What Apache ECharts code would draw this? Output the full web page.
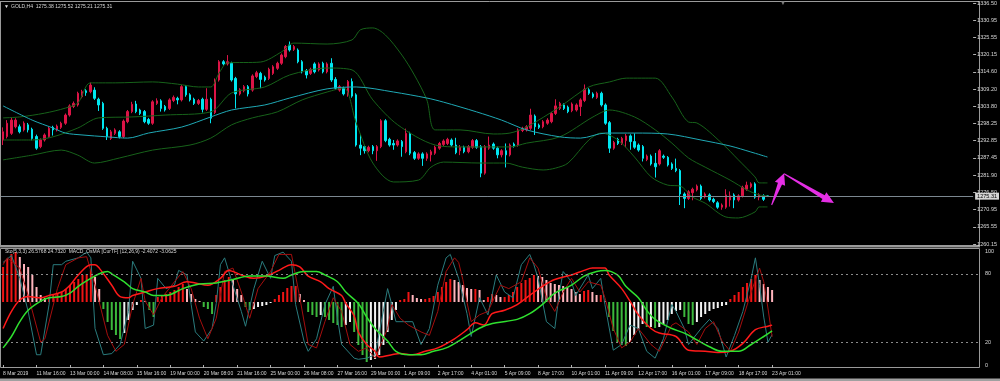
<!DOCTYPE html>
<html><head><meta charset="utf-8">
<script src="https://cdn.jsdelivr.net/npm/echarts/dist/echarts.min.js"></script>
<style>html,body{margin:0;padding:0;background:#000;}#c{width:1000px;height:381px;}</style>
</head><body><div id="c"></div>
<script>
// ---- tick labels ----
const timeLabels = ['8 Mar 2019','11 Mar 16:00','13 Mar 00:00','14 Mar 08:00','15 Mar 16:00','19 Mar 00:00','20 Mar 08:00','21 Mar 16:00','25 Mar 00:00','26 Mar 08:00','27 Mar 16:00','29 Mar 00:00','1 Apr 09:00','2 Apr 17:00','4 Apr 01:00','5 Apr 09:00','8 Apr 17:00','10 Apr 01:00','11 Apr 09:00','12 Apr 17:00','16 Apr 01:00','17 Apr 09:00','18 Apr 17:00','23 Apr 01:00'];
const priceTicks = ['1260.15','1265.55','1270.95','1276.50','1281.90','1287.45','1292.85','1298.25','1303.80','1309.20','1314.60','1320.15','1325.55','1330.95','1336.50'];
const stochTicks = [0, 20, 80, 100];
const stochLevels = [20, 80];
const barsPerLabel = 8;
const totalSlots = 234;

// ---- candles (H4 GOLD) ----
const opens = [1293.1,1294.2,1295.2,1297.3,1297.3,1296.3,1297.9,1296.5,1294.2,1291.0,1293.1,1294.2,1297.1,1296.3,1297.1,1298.4,1301.0,1303.7,1304.2,1306.8,1308.7,1308.4,1308.9,1306.0,1304.7,1296.8,1293.6,1295.2,1295.7,1294.2,1298.9,1302.1,1304.5,1302.6,1302.1,1299.6,1298.4,1304.7,1305.5,1303.7,1303.1,1305.6,1306.3,1305.8,1310.0,1307.4,1306.0,1304.7,1306.0,1302.8,1306.0,1301.8,1312.1,1317.9,1317.2,1317.4,1312.6,1307.7,1308.7,1310.0,1308.9,1313.2,1314.2,1313.0,1312.6,1314.2,1315.8,1317.4,1319.5,1323.2,1321.8,1321.6,1317.9,1315.1,1314.2,1317.2,1315.3,1317.4,1314.7,1317.4,1312.3,1308.9,1309.5,1307.4,1311.6,1307.4,1291.5,1291.0,1289.7,1291.0,1289.7,1291.0,1299.2,1293.3,1292.0,1291.5,1292.6,1289.4,1295.2,1289.1,1287.3,1288.7,1287.3,1288.4,1288.9,1290.5,1291.7,1292.0,1293.1,1291.5,1289.7,1290.8,1289.4,1290.8,1292.9,1291.0,1282.6,1290.5,1291.8,1290.5,1288.4,1289.7,1288.4,1291.8,1291.5,1296.1,1296.3,1296.8,1300.7,1297.8,1297.3,1298.4,1298.9,1301.5,1303.1,1304.2,1303.5,1302.4,1302.6,1303.7,1305.6,1309.0,1307.7,1306.6,1307.9,1304.2,1298.6,1290.5,1293.3,1292.0,1292.9,1294.4,1292.6,1291.5,1291.0,1286.9,1288.0,1285.7,1285.5,1288.0,1287.6,1285.5,1284.1,1283.4,1276.0,1274.6,1276.4,1277.3,1278.5,1275.1,1275.7,1274.3,1273.2,1271.8,1271.8,1274.1,1275.7,1274.1,1275.4,1277.5,1278.3,1279.2,1275.0,1275.4,1275.38];
const highs = [1297.1,1299.4,1300.3,1300.0,1298.0,1299.0,1298.5,1297.0,1294.8,1293.6,1295.2,1297.3,1297.6,1298.0,1298.9,1301.5,1304.4,1305.3,1308.4,1309.0,1309.2,1311.3,1309.8,1306.5,1305.2,1297.3,1296.3,1296.8,1296.2,1299.6,1302.6,1305.2,1305.5,1303.0,1302.6,1300.1,1305.7,1306.3,1306.0,1304.2,1306.3,1307.2,1306.8,1310.5,1310.5,1307.9,1306.5,1306.1,1306.5,1309.5,1306.5,1312.6,1318.4,1318.4,1320.0,1317.9,1313.1,1309.5,1310.5,1310.5,1313.9,1315.0,1314.7,1313.5,1316.0,1316.8,1317.9,1320.5,1323.2,1324.3,1323.2,1322.1,1318.4,1315.6,1316.0,1317.7,1317.7,1317.9,1317.7,1319.0,1313.0,1310.5,1310.0,1312.1,1312.6,1307.9,1294.7,1291.5,1291.3,1291.5,1291.5,1299.7,1299.7,1293.8,1293.1,1293.3,1293.1,1296.7,1295.7,1289.6,1289.2,1289.2,1289.2,1290.0,1291.3,1292.5,1293.3,1293.8,1293.6,1293.8,1291.5,1291.3,1291.5,1293.4,1293.4,1291.5,1291.5,1294.2,1292.3,1291.0,1290.2,1292.0,1292.0,1292.3,1296.8,1297.3,1297.8,1303.0,1301.2,1298.3,1299.4,1300.0,1302.0,1306.0,1305.2,1304.7,1304.0,1305.0,1304.7,1306.3,1310.7,1309.5,1308.2,1308.4,1308.4,1304.7,1299.1,1292.8,1293.8,1294.1,1295.0,1294.9,1295.2,1292.0,1291.5,1288.5,1288.5,1289.0,1290.2,1288.5,1288.0,1286.0,1287.2,1283.9,1276.5,1277.2,1278.0,1279.0,1279.0,1276.5,1276.2,1274.8,1273.7,1273.0,1277.5,1276.8,1276.2,1275.9,1278.6,1279.9,1279.7,1279.7,1276.2,1275.9,1275.52];
const lows = [1291.5,1293.6,1294.7,1296.8,1295.2,1295.8,1295.5,1293.0,1290.0,1290.5,1292.6,1293.8,1294.5,1295.8,1296.6,1297.9,1300.5,1303.2,1303.7,1306.3,1307.1,1307.9,1305.8,1302.3,1296.3,1293.1,1293.1,1294.7,1293.6,1293.7,1298.4,1301.6,1301.6,1301.0,1298.4,1297.9,1297.9,1304.2,1302.1,1302.1,1302.6,1305.1,1304.4,1305.3,1306.8,1305.3,1304.2,1304.2,1301.8,1302.3,1298.4,1301.3,1311.6,1316.7,1316.7,1311.6,1303.1,1307.2,1308.2,1306.9,1308.4,1312.7,1309.5,1311.6,1312.1,1313.7,1315.3,1316.9,1319.0,1321.1,1321.3,1317.4,1314.2,1312.6,1313.7,1314.2,1314.8,1314.2,1314.2,1311.5,1309.0,1308.4,1307.2,1306.8,1306.5,1291.0,1288.3,1288.8,1289.2,1288.6,1286.5,1290.5,1292.4,1291.0,1290.0,1291.0,1287.8,1288.9,1288.3,1286.8,1286.8,1284.9,1286.5,1286.3,1288.4,1290.0,1291.2,1291.5,1291.0,1288.6,1288.3,1288.9,1288.9,1290.3,1290.3,1281.3,1282.1,1290.0,1290.0,1287.3,1287.6,1284.4,1287.9,1290.7,1291.0,1295.6,1295.8,1296.3,1294.7,1296.6,1296.8,1297.9,1298.4,1301.0,1302.6,1302.6,1301.6,1301.9,1302.1,1300.7,1305.1,1307.4,1306.3,1306.1,1303.7,1297.9,1289.0,1290.0,1291.5,1291.5,1290.8,1290.0,1290.3,1289.4,1286.3,1286.4,1285.0,1281.2,1285.0,1287.1,1284.7,1283.6,1282.9,1272.5,1271.5,1274.1,1274.0,1276.8,1274.1,1274.6,1273.6,1273.1,1271.3,1271.0,1271.3,1272.0,1271.5,1273.6,1274.9,1277.0,1277.8,1274.5,1274.0,1273.8,1275.21];
const closes = [1295.7,1298.4,1299.4,1299.4,1295.7,1298.4,1296.3,1293.6,1290.5,1293.1,1294.7,1296.8,1296.3,1297.5,1298.4,1301.0,1303.9,1304.7,1307.9,1308.4,1308.1,1310.5,1306.3,1304.2,1296.8,1294.2,1295.7,1296.3,1294.2,1299.1,1302.1,1304.4,1302.1,1301.5,1298.9,1298.4,1305.2,1305.5,1303.1,1302.6,1305.8,1306.6,1305.8,1310.0,1307.4,1305.8,1304.7,1305.6,1302.8,1306.0,1300.0,1312.1,1317.9,1317.2,1317.9,1312.1,1307.7,1309.0,1310.0,1307.7,1313.4,1314.4,1312.3,1312.1,1315.5,1316.3,1317.4,1320.0,1322.7,1321.6,1322.7,1317.9,1314.7,1313.7,1315.5,1314.7,1317.2,1314.7,1317.2,1312.1,1309.5,1310.0,1307.7,1311.6,1307.0,1291.5,1290.5,1289.7,1290.8,1289.7,1291.0,1299.2,1292.9,1291.5,1291.5,1292.8,1291.0,1295.2,1288.9,1287.3,1288.7,1287.3,1288.7,1289.4,1290.8,1292.0,1292.8,1293.3,1291.5,1289.1,1290.8,1289.4,1291.0,1292.9,1290.8,1282.6,1291.0,1291.5,1290.5,1288.4,1289.7,1288.4,1291.5,1291.2,1296.3,1296.8,1297.3,1301.0,1297.3,1297.1,1298.9,1299.4,1301.5,1303.9,1304.7,1303.1,1302.1,1304.5,1304.2,1305.8,1309.2,1307.9,1306.8,1307.9,1304.2,1298.4,1290.5,1292.3,1292.0,1293.6,1294.4,1292.6,1290.8,1289.9,1287.3,1288.0,1285.5,1284.6,1289.7,1287.6,1285.2,1284.1,1283.4,1276.0,1274.6,1276.7,1277.5,1278.5,1274.6,1276.0,1274.1,1273.6,1271.8,1272.5,1275.7,1275.4,1274.1,1275.4,1278.1,1278.8,1279.2,1275.0,1275.7,1274.3,1275.31];

// ---- main indicators: [bar, price] ----
const maLine = [[0,1303.9],[7,1299.4],[12,1296.9],[15,1295.3],[19,1294.7],[25,1294.1],[30,1293.7],[35,1295.3],[43,1297.2],[50,1300.4],[55,1302.6],[63,1304.2],[69,1306.4],[78,1309.3],[85,1309.9],[94,1308.3],[102,1306.4],[106,1305.1],[114,1302.0],[120,1299.4],[126,1296.3],[134,1294.1],[139,1293.7],[145,1295.3],[152,1295.3],[160,1295.0],[168,1293.1],[175,1291.2],[180,1289.3],[184,1287.7]];
const bbUpper = [[0,1300.1],[4,1300.4],[10,1301.6],[15,1303.2],[18,1304.8],[21,1311.2],[27,1311.2],[36,1311.5],[42,1310.8],[47,1309.9],[50,1309.9],[52,1314.3],[54,1317.5],[62,1317.8],[67,1321.0],[70,1323.8],[78,1323.5],[84,1324.8],[86,1328.0],[89,1328.6],[92,1326.4],[96,1320.0],[99,1313.7],[102,1305.8],[104,1296.3],[110,1296.3],[118,1295.0],[122,1295.3],[126,1297.2],[134,1303.6],[141,1309.9],[146,1311.5],[150,1312.7],[157,1312.7],[161,1306.7],[165,1298.8],[167,1298.5],[173,1292.1],[177,1286.8],[181,1281.4],[182,1279.5],[184,1279.5]];
const bbMiddle = [[0,1293.1],[7,1293.1],[12,1294.1],[18,1296.9],[23,1300.1],[31,1300.4],[39,1301.0],[50,1302.0],[55,1308.0],[63,1309.9],[69,1313.7],[78,1315.9],[84,1315.3],[89,1305.8],[95,1297.9],[104,1291.5],[110,1290.9],[122,1290.9],[126,1292.1],[134,1294.1],[142,1300.4],[146,1302.6],[152,1300.4],[157,1296.3],[161,1292.1],[165,1287.4],[169,1284.5],[175,1280.4],[179,1277.3],[182,1275.7],[184,1275.4]];
const bbLower = [[0,1286.8],[7,1288.3],[14,1289.9],[18,1288.3],[22,1285.8],[28,1287.4],[36,1289.9],[45,1291.5],[50,1293.7],[55,1297.9],[60,1300.1],[66,1302.0],[72,1305.8],[78,1308.3],[82,1309.6],[85,1298.5],[89,1285.8],[94,1279.8],[100,1280.4],[103,1284.5],[106,1286.1],[115,1285.8],[121,1285.8],[125,1284.5],[130,1283.6],[133,1284.2],[136,1285.8],[141,1293.1],[144,1295.3],[148,1293.1],[152,1287.7],[156,1281.4],[160,1278.8],[163,1278.5],[166,1275.0],[169,1273.1],[174,1268.7],[177,1268.4],[181,1270.3],[182,1271.9],[184,1271.9]];

// ---- sub window: Stochastic(5,3,3) + MACD OsMA ----
const stochMain = [[0,90],[2,96],[4,76],[6,47],[8,9],[9,9],[11,53],[12,88],[14,88],[15,91],[18,94],[20,99],[21,94],[22,32],[24,9],[26,10],[28,18],[30,47],[31,91],[33,76],[34,32],[36,35],[37,76],[39,67],[41,70],[42,83],[44,79],[45,53],[46,29],[48,21],[50,32],[51,54],[52,88],[53,94],[55,70],[57,47],[58,34],[60,67],[62,91],[64,76],[65,96],[67,99],[69,91],[70,53],[72,21],[73,12],[75,23],[77,53],[79,69],[80,41],[81,18],[84,6],[85,5],[87,6],[89,9],[92,67],[93,53],[94,38],[96,38],[98,38],[100,18],[102,32],[104,70],[106,94],[107,97],[109,76],[111,45],[112,25],[113,42],[114,59],[116,44],[118,79],[120,64],[122,59],[124,88],[126,97],[127,88],[128,76],[130,38],[132,32],[133,61],[134,82],[136,73],[137,61],[140,79],[141,67],[143,76],[144,53],[146,13],[148,18],[150,35],[152,32],[154,12],[156,6],[158,23],[160,53],[161,47],[163,32],[164,18],[167,32],[169,40],[171,32],[173,7],[175,26],[177,47],[179,76],[180,94],[181,70],[182,42],[183,20],[184,26.58]];
const stochSignal = [[0,88],[1,94],[4,85],[6,61],[9,20],[10,23],[13,67],[15,88],[18,94],[20,95],[22,70],[25,26],[27,12],[29,18],[31,53],[33,76],[34,56],[36,44],[38,59],[41,73],[43,82],[45,67],[47,41],[49,23],[51,41],[53,82],[55,85],[57,64],[59,41],[61,67],[64,82],[66,97],[69,97],[71,59],[73,18],[75,15],[77,38],[79,59],[81,47],[83,18],[85,12],[87,15],[89,6],[92,32],[93,53],[95,41],[97,35],[100,29],[102,26],[104,47],[106,82],[108,94],[109,90],[110,75],[111,55],[112,38],[114,44],[116,47],[119,70],[121,67],[124,73],[126,94],[128,85],[130,59],[132,47],[134,64],[136,76],[138,64],[140,73],[143,70],[144,59],[146,32],[148,15],[150,20],[152,32],[155,18],[157,12],[160,35],[161,37],[164,29],[166,18],[168,32],[170,38],[172,21],[174,12],[176,29],[179,64],[181,85],[182,73],[183,50],[184,24.73]];
const slowRed = [[0,32],[2,47],[4,57],[6,60],[9,59],[11,61],[14,64],[16,70],[18,79],[21,88],[22,88],[23,85],[26,70],[28,60],[30,59],[31,61],[34,64],[37,67],[41,69],[44,73],[46,72],[49,70],[52,76],[54,83],[57,79],[60,76],[63,78],[66,83],[69,88],[71,86],[73,78],[76,73],[78,67],[81,61],[82,54],[84,43],[85,29],[87,18],[89,12],[90,7],[93,9],[95,10],[98,9],[101,12],[104,15],[108,23],[111,31],[113,37],[115,35],[117,45],[120,48],[123,53],[126,61],[129,69],[132,75],[136,79],[139,83],[141,85],[144,85],[145,79],[148,67],[150,56],[152,44],[155,32],[157,28],[161,25],[164,13],[168,12],[171,11],[174,12],[177,19],[180,31],[183,34],[184,35]];
const slowGreen = [[0,15],[2,25],[4,38],[6,48],[9,56],[11,59],[14,60],[16,63],[18,69],[21,76],[23,80],[25,82],[26,80],[29,73],[31,67],[34,64],[36,61],[39,61],[43,67],[47,71],[51,72],[55,75],[59,78],[63,78],[67,76],[69,79],[72,82],[75,82],[77,79],[80,73],[82,64],[85,54],[87,42],[89,32],[92,21],[94,12],[97,9],[100,9],[103,12],[106,15],[109,21],[112,28],[115,34],[118,37],[123,40],[126,45],[129,53],[132,63],[136,70],[139,78],[142,82],[144,83],[147,79],[149,69],[152,59],[154,48],[156,40],[160,32],[163,28],[166,22],[169,16],[172,12],[176,12],[179,18],[182,25],[184,30]];
const osma = [3.5,4.3,4.8,5.0,4.5,3.8,3.5,2.7,1.5,0.7,0.4,0.5,0.7,0.8,1.0,1.3,1.7,2.0,2.3,2.7,2.8,3.2,2.5,1.3,-0.7,-2.0,-2.8,-3.3,-3.7,-3.1,-1.8,-0.8,-0.3,0.2,0.1,-0.8,-1.5,0.5,0.7,0.8,1.0,1.2,1.5,1.8,1.3,0.8,0.3,0.1,-0.5,-0.7,-1.2,0.7,1.5,2.2,2.5,2.3,1.3,0.7,-0.5,-0.8,-0.7,-0.5,-0.4,-0.3,-0.1,0.3,0.7,1.0,1.4,1.6,1.6,0.8,0.2,-1.0,-1.3,-1.5,-1.3,-1.5,-1.8,-2.1,-2.3,-2.5,-2.3,-2.0,-3.0,-4.3,-5.3,-6.0,-5.8,-5.7,-5.3,-4.3,-3.0,-1.8,-0.8,0.2,0.3,1.0,0.7,0.4,0.3,0.3,0.4,0.6,1.0,1.5,2.0,2.3,2.2,2.0,1.7,1.4,1.3,1.3,1.2,0.2,0.5,0.8,0.7,0.5,0.5,0.7,1.0,1.5,1.9,2.2,2.4,2.7,2.6,2.5,2.2,1.9,1.8,1.7,1.6,1.5,1.3,1.0,0.8,1.1,1.2,1.0,0.7,0.7,0.1,-1.5,-2.9,-4.0,-4.3,-4.4,-4.0,-3.3,-2.7,-2.2,-2.5,-2.5,-2.6,-2.5,-2.2,-1.8,-1.2,-0.9,-0.8,-1.5,-2.2,-2.3,-2.0,-1.5,-1.2,-0.9,-0.7,-0.6,-0.4,-0.3,0.3,0.7,1.0,1.5,1.9,2.3,2.7,2.2,1.8,1.5,1.2];

// ---- forecast arrows: [fromBar, fromPrice, toBar, toPrice] ----
const arrows = [[185,1272.5,188,1282.6],[188,1282.4,200,1273.1]];

const subHeader = 'Sto(5,3,3) 26.5768 24.7320  MACD_OsMA [CurTF] (12,26,9) -2.4072 -3.0625';

const n = closes.length;
const last = n - 1;
const categories = Array.from({length: totalSlots}, (_, i) => String(i));
const candleData = opens.map((o, i) => [o, closes[i], lows[i], highs[i]]);
const labelAt = (idx) => idx % barsPerLabel === 0 && idx / barsPerLabel < timeLabels.length;
const FONT = 'Liberation Sans';
const TXT = '#d8d8d8';

const C_UP = '#dc1446', C_DN = '#00e6f0';
const H_RED = '#f01414', H_PINK = '#ffb4bc', H_GREEN = '#3cb83c', H_WHITE = '#f2f2f2';

function histColor(p) {
  const i = p.dataIndex, v = osma[i], prev = i > 0 ? osma[i - 1] : v;
  if (v >= 0) return v >= prev ? H_RED : H_PINK;
  return v < prev ? H_GREEN : H_WHITE;
}

function arrowRender(params, api) {
  const p0 = api.coord([api.value(0), api.value(1)]);
  const p1 = api.coord([api.value(2), api.value(3)]);
  const dx = p1[0] - p0[0], dy = p1[1] - p0[1], L = Math.hypot(dx, dy);
  const ux = dx / L, uy = dy / L, nx = -uy, ny = ux;
  const hl = Math.min(12, L * 0.33), hw = 5.5, sw = 2.2, tw = 0.5;
  const bx = p1[0] - ux * hl, by = p1[1] - uy * hl;
  const pts = [
    [p0[0] + nx * tw, p0[1] + ny * tw], [bx + nx * sw, by + ny * sw], [bx + nx * hw, by + ny * hw],
    [p1[0], p1[1]],
    [bx - nx * hw, by - ny * hw], [bx - nx * sw, by - ny * sw], [p0[0] - nx * tw, p0[1] - ny * tw]
  ];
  return {type: 'polygon', shape: {points: pts}, style: {fill: '#e42ee4'}};
}

const chart = echarts.init(document.getElementById('c'), null, {renderer: 'canvas'});
const lineBase = {type: 'line', showSymbol: false, symbol: 'none', silent: true, animation: false};
const titleStyle = (color, size) => ({color: color, fontSize: size, fontFamily: FONT, fontWeight: 'normal'});

chart.setOption({
  backgroundColor: '#000000',
  animation: false,
  textStyle: {fontFamily: FONT},
  title: [
    {text: '▼', left: 4, top: 4, padding: 0, textStyle: titleStyle('#e0e0e0', 5)},
    {text: 'GOLD,H4  ' + [opens[last], highs[last], lows[last], closes[last]].map(v => v.toFixed(2)).join(' '),
     left: 11, top: 4, padding: 0, textStyle: titleStyle(TXT, 5)},
    {text: '▼', left: 780, top: 0, padding: 0, textStyle: titleStyle('#7a7a7a', 6)},
    {text: subHeader, left: 5, top: 249, padding: 0, textStyle: titleStyle(TXT, 5)}
  ],
  graphic: [
    {type: 'line', shape: {x1: 0, y1: 1.5, x2: 979.5, y2: 1.5}, style: {stroke: '#9a9a9a', lineWidth: 1}, silent: true},
    {type: 'line', shape: {x1: 0.5, y1: 1, x2: 0.5, y2: 245}, style: {stroke: '#9a9a9a', lineWidth: 1}, silent: true},
    {type: 'line', shape: {x1: 979.5, y1: 1, x2: 979.5, y2: 245}, style: {stroke: '#9a9a9a', lineWidth: 1}, silent: true},
    {type: 'rect', shape: {x: 0, y: 245, width: 980, height: 2.5}, style: {fill: '#9a9a9a'}, silent: true},
    {type: 'rect', shape: {x: 0.5, y: 248.5, width: 979, height: 119}, style: {fill: 'none', stroke: '#9a9a9a', lineWidth: 1}, silent: true},
    {type: 'rect', shape: {x: 0, y: 378.5, width: 1000, height: 3}, style: {fill: '#a0a0a0'}, silent: true}
  ],
  grid: [
    {left: 1, top: 3, width: 978, height: 241},
    {left: 1, top: 251, width: 978, height: 114}
  ],
  xAxis: [
    {type: 'category', gridIndex: 0, data: categories, boundaryGap: true, show: false},
    {type: 'category', gridIndex: 1, data: categories, boundaryGap: true,
     axisLine: {show: false},
     axisTick: {show: true, interval: labelAt, alignWithLabel: true, length: 3, lineStyle: {color: '#b0b0b0'}},
     axisLabel: {interval: labelAt, align: 'left', margin: 6, fontSize: 5, color: TXT, fontFamily: FONT,
                 formatter: (v, idx) => timeLabels[idx / barsPerLabel] || ''},
     splitLine: {show: false}}
  ],
  yAxis: [
    {type: 'value', gridIndex: 0, min: parseFloat(priceTicks[0]), max: parseFloat(priceTicks[priceTicks.length - 1]), show: false, scale: true},
    {type: 'value', gridIndex: 0, position: 'right', min: 0, max: priceTicks.length - 1, interval: 1,
     axisLine: {show: false}, splitLine: {show: false},
     axisTick: {show: true, length: 3, lineStyle: {color: '#b0b0b0'}},
     axisLabel: {margin: 4, fontSize: 5.5, color: TXT, fontFamily: FONT, showMinLabel: true, showMaxLabel: true,
                 formatter: v => priceTicks[Math.round(v)]}},
    {type: 'value', gridIndex: 1, position: 'right', min: 0, max: 100, interval: 20,
     axisLine: {show: false}, splitLine: {show: false}, axisTick: {show: false},
     axisLabel: {margin: 6, fontSize: 5.5, color: TXT, fontFamily: FONT, showMinLabel: true, showMaxLabel: true,
                 formatter: v => stochTicks.includes(v) ? String(v) : ''}},
    {type: 'value', gridIndex: 1, min: -6.3, max: 5.1, show: false}
  ],
  series: [
    Object.assign({}, lineBase, {name: 'BB upper', xAxisIndex: 0, yAxisIndex: 0, data: bbUpper, smooth: 0.3, lineStyle: {color: '#17621a', width: 1}}),
    Object.assign({}, lineBase, {name: 'BB middle', xAxisIndex: 0, yAxisIndex: 0, data: bbMiddle, smooth: 0.3, lineStyle: {color: '#17621a', width: 1}}),
    Object.assign({}, lineBase, {name: 'BB lower', xAxisIndex: 0, yAxisIndex: 0, data: bbLower, smooth: 0.3, lineStyle: {color: '#17621a', width: 1}}),
    Object.assign({}, lineBase, {name: 'MA', xAxisIndex: 0, yAxisIndex: 0, data: maLine, smooth: 0.3, lineStyle: {color: '#1fa9b5', width: 1}}),
    {type: 'candlestick', name: 'GOLD', xAxisIndex: 0, yAxisIndex: 0, data: candleData, barWidth: 2, silent: true,
     itemStyle: {color: C_UP, color0: C_DN, borderColor: C_UP, borderColor0: C_DN, borderWidth: 1},
     markLine: {silent: true, symbol: 'none', animation: false,
       lineStyle: {color: '#7b8790', width: 1, type: 'solid'},
       label: {show: true, position: 'end', distance: 2, formatter: p => p.value.toFixed(2), color: '#000', backgroundColor: '#d4d4d4',
               fontSize: 5.5, fontFamily: FONT, padding: [1, 2, 0, 2]},
       data: [{yAxis: closes[last]}]}},
    {type: 'custom', name: 'forecast', xAxisIndex: 0, yAxisIndex: 0, data: arrows, renderItem: arrowRender,
     encode: {x: [0, 2], y: [1, 3]}, silent: true, z: 5},
    {type: 'bar', name: 'OsMA', xAxisIndex: 1, yAxisIndex: 3, data: osma, barWidth: 2, silent: true,
     itemStyle: {color: histColor}},
    Object.assign({}, lineBase, {name: 'Stoch main', xAxisIndex: 1, yAxisIndex: 2, data: stochMain, lineStyle: {color: '#2a7c7e', width: 1},
      markLine: {silent: true, symbol: 'none', animation: false, label: {show: false},
        lineStyle: {color: '#8a8a8a', width: 1, type: [2, 3]}, data: stochLevels.map(v => ({yAxis: v}))}}),
    Object.assign({}, lineBase, {name: 'Stoch signal', xAxisIndex: 1, yAxisIndex: 2, data: stochSignal, lineStyle: {color: '#a50e0e', width: 1}}),
    Object.assign({}, lineBase, {name: 'Red', xAxisIndex: 1, yAxisIndex: 2, data: slowRed, smooth: 0.35, lineStyle: {color: '#ff1a1a', width: 1.5}}),
    Object.assign({}, lineBase, {name: 'Green', xAxisIndex: 1, yAxisIndex: 2, data: slowGreen, smooth: 0.35, lineStyle: {color: '#2fe02f', width: 1.5}})
  ]
});
</script>
</body></html>
